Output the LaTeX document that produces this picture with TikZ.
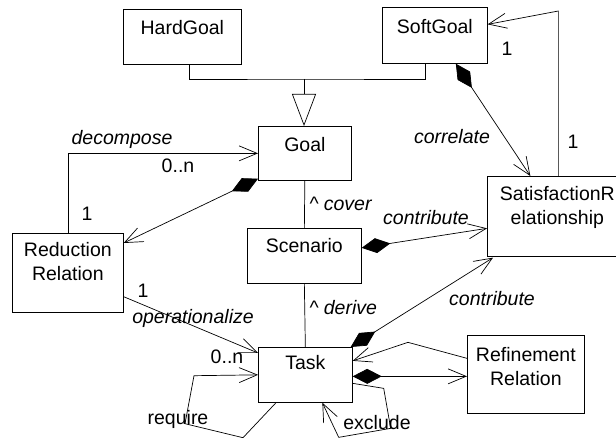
\documentclass[tikz,border=0pt]{standalone}
\usepackage{fontspec}
\setmainfont{Liberation Sans}
\usetikzlibrary{arrows.meta}
\newcommand\diagfont{\fontsize{19.5}{24}\selectfont}
\tikzset{
  cls/.style={draw, line width=0.7pt, anchor=north west, inner sep=0pt},
  clsname/.style={anchor=north, inner sep=0pt, align=center},
  barb/.style={-{Straight Barb[length=18pt,width=15pt]}},
  comp/.style={{Diamond[length=29pt,width=15pt]}-{Straight Barb[length=18pt,width=15pt]}},
  role/.style={inner sep=1pt, font=\diagfont\itshape},
  mult/.style={inner sep=1pt},
}
\begin{document}
\begin{tikzpicture}[x=1pt, y=-1pt, line width=0.7pt, font=\diagfont]
			\useasboundingbox (0,0) rectangle (616,438);
			%%%%% CLASSES %%%%%
			\node[cls, minimum width=118pt, minimum height=55pt] (hard) at (123,9) {};
			\node[clsname, yshift=-11pt] (hardname) at (hard.north) {HardGoal};
			
			\node[cls, minimum width=105pt, minimum height=56pt] (soft) at (382,7) {};
			\node[clsname, yshift=-12pt] (softname) at (soft.north) {SoftGoal};
			
			\node[cls, minimum width=93pt, minimum height=54pt] (goal) at (258,126) {};
			\node[clsname, yshift=-11pt] (goalname) at (goal.north) {Goal};
			
			\node[cls, minimum width=140pt, minimum height=80pt] (sat) at (487,176) {};
			\node[clsname, yshift=-10pt] (satname) at (sat.north) {SatisfactionR\\elationship};
			
			\node[cls, minimum width=114pt, minimum height=55pt] (scen) at (247,228) {};
			\node[clsname, yshift=-10pt] (scenname) at (scen.north) {Scenario};
			
			\node[cls, minimum width=111pt, minimum height=79pt] (red) at (12,233) {};
			\node[clsname, yshift=-9pt] (redname) at (red.north) {Reduction\\Relation};
			
			\node[cls, minimum width=94pt, minimum height=55pt] (task) at (258,347) {};
			\node[clsname, yshift=-8pt] (taskname) at (task.north) {Task};
			
			\node[cls, minimum width=117pt, minimum height=78pt] (ref) at (467,335) {};
			\node[clsname, yshift=-12pt] (refname) at (ref.north) {Refinement\\Relation};
			
			%%%%% GENERALIZATION %%%%%
			\coordinate (gen) at (304,79);
			\draw ([xshift=7pt]hard.south) |- (gen) -| ([xshift=-9.5pt]soft.south);
			\draw[-{Triangle[open,length=32pt,width=24pt]}] (gen) -- (gen |- goal.north);
			
			%%%%% ASSOCIATIONS %%%%%
			\draw[barb] (red.north) |- (goal.west);
			\node[role] (decomp) at (122,139) {decompose};
			\node[mult] (mgoal) at (178,166) {0..n};
			\node[mult] (mred) at (87,214) {1};
			
			\draw[comp] ([yshift=2pt]goal.south west) -- ([yshift=-10pt]red.north east);
			
			\draw (goal.south) -- (scen.north);
			\node[role, anchor=west] (cover) at (308,204) {\textasciicircum{} cover};
			
			\draw[comp] ([yshift=8pt]scen.east) -- ([yshift=-12pt]sat.west);
			\node[role] (contribscen) at (426,218) {contribute};
			
			\draw (scen.south) -- (task.north);
			\node[role, anchor=west] (derive) at (308,308) {\textasciicircum{} derive};
			
			\draw[comp] ([xshift=21pt]soft.south) -- ([xshift=-27pt]sat.north);
			\node[role] (correl) at (452,137) {correlate};
			\node[mult] (msoft) at (507,49) {1};
			
			\draw[barb] ([xshift=1pt]sat.north) -- ++(0,-165) -- ([yshift=11pt]soft.east);
			\node[mult] (msat) at (573,142) {1};
			
			\draw[comp] ([xshift=-2pt]task.north east) -- ([xshift=6pt,yshift=-1pt]sat.south west);
			\node[role] (contribtask) at (492,299) {contribute};
			
			\draw[barb] ([yshift=16pt]red.south east) -- ([yshift=-6pt]task.north west);
			\node[mult] (mred2) at (143,291) {1};
			\node[role] (oper) at (193,318) {operationalize};
			\node[mult] (mtask) at (227,357) {0..n};
			
			\draw[barb] ([xshift=18pt]task.south west) -- ++(-33,35) -- ++(-58,-14) -- ++(9,-48) -- (task.west);
			\node[mult] (req) at (178,419) {require};
			
			\draw[barb] ([yshift=-8.5pt]task.east) -- ++(31,5) -- ++(7,40) -- ++(-52,9) -- ([xshift=17pt]task.south);
			\node[mult] (excl) at (377,423) {exclude};
			
			\draw[barb] ([yshift=16pt]ref.west) -- ++(-59,-16) -- ([yshift=14pt]task.east);
			\draw[comp] ([yshift=-1.5pt]task.east) -- ([yshift=-2pt]ref.west);
			
			%%%%% END %%%%%
\end{tikzpicture}
\end{document}
